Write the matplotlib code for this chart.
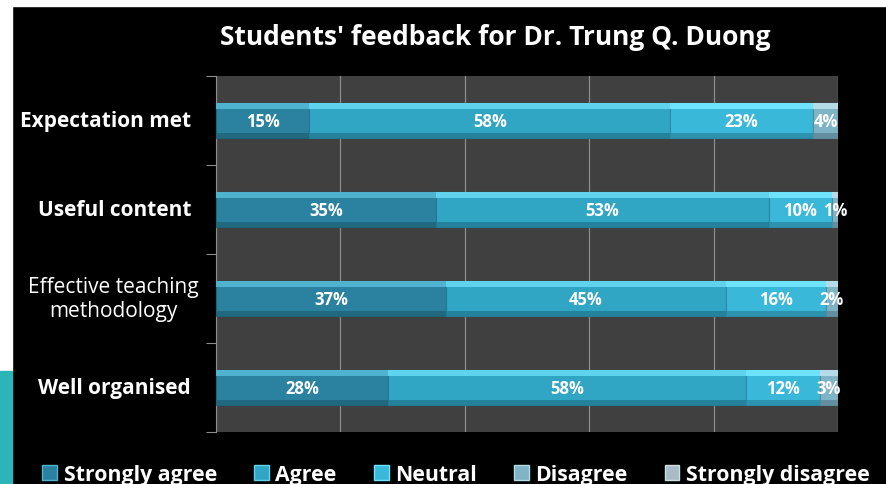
import numpy as np
import matplotlib.pyplot as plt
from matplotlib.patches import Rectangle, Patch

# données
categories = ['Expectation met', 'Useful content', 'Effective teaching\nmethodology', 'Well organised']
bold_labels = [True, True, False, True]
series = ['Strongly agree', 'Agree', 'Neutral', 'Disagree', 'Strongly disagree']
strongly_agree = [15, 35, 37, 28]
agree = [58, 53, 45, 58]
neutral = [23, 10, 16, 12]
disagree = [4, 1, 2, 3]
strongly_disagree = [0, 0, 0, 0]

couleurs = ['#2a82a0', '#31a5c4', '#3ab8da', '#7fb3c6', '#a9bcc6']
clair = ['#4fb3cf', '#5fd3ee', '#6ee3fb', '#b5dbe8', '#d0dde3']
sombre = ['#1f6378', '#237a92', '#2a8aa5', '#5d8898', '#7e929c']

plt.rcParams['font.family'] = ['Open Sans', 'DejaVu Sans']

fig = plt.figure(figsize=(8.87, 4.85), dpi=100, facecolor='black')

# bandes blanches / turquoise du bord gauche
fig.patches.append(Rectangle((0, 0.985), 1, 0.015, transform=fig.transFigure, color='white', zorder=0))
fig.patches.append(Rectangle((0, 0.233), 0.014, 0.767, transform=fig.transFigure, color='white', zorder=0))
fig.patches.append(Rectangle((0, 0), 0.014, 0.233, transform=fig.transFigure, color='#2bb5b8', zorder=0))

ax = fig.add_axes([0.2435, 0.1072, 0.7013, 0.734])
ax.set_facecolor('#404040')

valeurs = np.array([strongly_agree, agree, neutral, disagree, strongly_disagree], dtype=float)
valeurs_pct = valeurs / valeurs.sum(axis=0) * 100  # barres empilées à 100 %

y = np.arange(len(categories))[::-1]
h = 0.4
gauche = np.zeros(len(categories))
for i, nom in enumerate(series):
    w = valeurs_pct[i]
    ax.barh(y, w, h, left=gauche, color=couleurs[i], edgecolor=sombre[i], linewidth=0.8, zorder=3, label=nom)
    # effet de biseau : bande claire en haut, sombre en bas
    ax.barh(y + h / 2 - 0.035, w, 0.07, left=gauche, color=clair[i], linewidth=0, zorder=4)
    ax.barh(y - h / 2 + 0.03, w, 0.06, left=gauche, color=sombre[i], linewidth=0, zorder=4, alpha=0.8)
    for j in range(len(categories)):
        if valeurs[i][j] > 0:
            ax.text(gauche[j] + w[j] / 2, y[j], f'{int(valeurs[i][j])}%', ha='center', va='center',
                    color='white', fontsize=12, fontweight='bold', zorder=5)
    gauche += w

ax.set_xlim(0, 100)
ax.set_ylim(-0.5, 3.5)
ax.set_xticks(np.arange(0, 101, 20))
ax.set_xticklabels([])
ax.tick_params(axis='x', length=0)
ax.grid(axis='x', color='#8c8c8c', linewidth=0.9, zorder=1)
ax.set_yticks(np.arange(-0.5, 3.6, 1))
ax.set_yticklabels([])
ax.tick_params(axis='y', length=7, color='#8c8c8c', width=0.8)
for s in ['top', 'right', 'bottom']:
    ax.spines[s].set_visible(False)
ax.spines['left'].set_color('#8c8c8c')

for j, cat in enumerate(categories):
    if bold_labels[j]:
        ax.text(-0.04, y[j], cat, transform=ax.get_yaxis_transform(), ha='right', va='center',
                color='white', fontsize=15, fontweight='bold')
    else:
        ax.text(-0.165, y[j], cat, transform=ax.get_yaxis_transform(), ha='center', va='center',
                color='white', fontsize=15, linespacing=1.15)

fig.text(0.558, 0.922, "Students' feedback for Dr. Trung Q. Duong", ha='center', va='center',
         color='white', fontsize=19, fontweight='bold')

poignees = [Patch(facecolor=couleurs[i], edgecolor=clair[i]) for i in range(len(series))]
leg = fig.legend(poignees, series, loc='center', bbox_to_anchor=(0.514, 0.019), ncol=5, frameon=False,
                 handlelength=0.7, handleheight=0.7, handletextpad=0.3, columnspacing=1.75,
                 prop={'weight': 'bold', 'size': 15.3})
for t in leg.get_texts():
    t.set_color('white')

fig.savefig('out.png', dpi=100, facecolor='black')
